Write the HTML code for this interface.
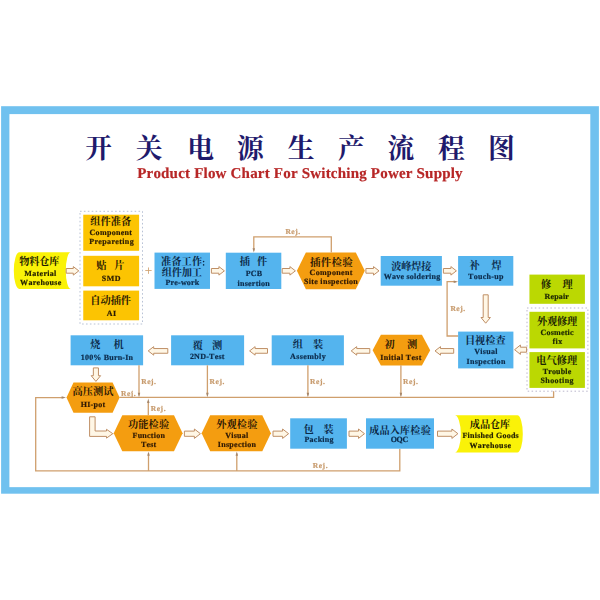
<!DOCTYPE html>
<html lang="zh"><head><meta charset="utf-8"><title>开关电源生产流程图 - Product Flow Chart For Switching Power Supply</title>
<style>
html,body{margin:0;padding:0;background:#fff}
body{width:600px;height:600px;position:relative;overflow:hidden;font-family:"Liberation Serif",serif}
svg{position:absolute;left:0;top:0}
#txt{position:absolute;left:0;top:0;width:600px;height:600px;will-change:transform}
.t{position:absolute;text-align:center;font-family:"Liberation Serif",serif;font-weight:bold;line-height:9px;white-space:nowrap;-webkit-text-stroke:0.2px currentColor;text-rendering:geometricPrecision;font-kerning:none}
.c{font-family:"Liberation Serif","Noto Serif CJK SC",serif;font-weight:bold}
</style></head><body>
<svg width="600" height="600" viewBox="0 0 600 600">
<rect x="1.10" y="106.20" width="597.80" height="387.50" fill="#70c1ef"/>
<rect x="9.40" y="114.10" width="580.90" height="373.05" fill="#fff"/>
<path d="M19.3,252.3 L70.7,252.3 A4.9,18.35 0 0 0 70.7,289 L19.3,289 A5.5,18.35 0 0 1 19.3,252.3Z" fill="#faf208"/>
<polygon points="66.20,268.50 73.30,268.50 73.30,266.60 78.80,270.85 73.30,275.10 73.30,273.20 66.20,273.20" fill="#fff7e6" stroke="#bf8f66" stroke-width="1"/>
<rect x="80" y="211.3" width="62.5" height="112.7" fill="none" stroke="#a6b3ca" stroke-width="0.8" stroke-dasharray="1.6 2.3"/>
<rect x="83.25" y="214.70" width="55.85" height="36.10" fill="#fcc402"/>
<rect x="83.25" y="255.80" width="55.85" height="30.50" fill="#fcc402"/>
<rect x="83.25" y="290.60" width="55.85" height="29.70" fill="#fcc402"/>
<rect x="154.50" y="252.60" width="55.50" height="36.30" fill="#54b4ee"/>
<polygon points="211.40,268.50 218.90,268.50 218.90,266.60 224.40,270.85 218.90,275.10 218.90,273.20 211.40,273.20" fill="#fff7e6" stroke="#bf8f66" stroke-width="1"/>
<rect x="225.80" y="252.70" width="55.50" height="36.30" fill="#54b4ee"/>
<polygon points="282.20,268.50 289.90,268.50 289.90,266.60 295.40,270.85 289.90,275.10 289.90,273.20 282.20,273.20" fill="#fff7e6" stroke="#bf8f66" stroke-width="1"/>
<polygon points="296.90,270.85 305.90,252.40 355.80,252.40 364.80,270.85 355.80,289.30 305.90,289.30" fill="#f49d10"/>
<polygon points="365.90,268.50 373.50,268.50 373.50,266.60 379.00,270.85 373.50,275.10 373.50,273.20 365.90,273.20" fill="#fff7e6" stroke="#bf8f66" stroke-width="1"/>
<rect x="380.70" y="256.00" width="61.20" height="29.70" fill="#54b4ee"/>
<polygon points="443.40,268.50 450.90,268.50 450.90,266.60 456.40,270.85 450.90,275.10 450.90,273.20 443.40,273.20" fill="#fff7e6" stroke="#bf8f66" stroke-width="1"/>
<rect x="458.10" y="256.00" width="55.20" height="29.70" fill="#54b4ee"/>
<polyline points="331.30,252.40 331.30,236.80 253.80,236.80 253.80,250.50" fill="none" stroke="#cf9f6d" stroke-width="1.3"/>
<polygon points="253.80,252.60 252.55,248.20 255.05,248.20" fill="#a5866a"/>
<polygon points="483.20,294.80 483.20,317.50 481.00,317.50 485.70,323.20 490.40,317.50 488.20,317.50 488.20,294.80" fill="#fff7e6" stroke="#bf8f66" stroke-width="1"/>
<rect x="458.10" y="331.60" width="55.30" height="36.80" fill="#54b4ee"/>
<polyline points="458.10,336.00 447.10,336.00 447.10,281.70 456.00,281.70" fill="none" stroke="#cf9f6d" stroke-width="1.3"/>
<polygon points="458.10,281.70 453.70,280.45 453.70,282.95" fill="#a5866a"/>
<rect x="529.45" y="274.60" width="55.45" height="29.20" fill="#bbd802"/>
<rect x="527.0" y="308" width="60.9" height="83.2" fill="none" stroke="#a9a4c0" stroke-width="0.8" stroke-dasharray="1.5 2.4"/>
<rect x="529.45" y="311.80" width="55.45" height="36.60" fill="#bbd802"/>
<rect x="529.45" y="352.10" width="55.45" height="35.80" fill="#bbd802"/>
<polygon points="526.60,347.20 520.40,347.20 520.40,345.00 514.60,349.70 520.40,354.40 520.40,352.20 526.60,352.20" fill="#fff7e6" stroke="#bf8f66" stroke-width="1"/>
<polyline points="553.60,391.20 553.60,397.40 119.60,397.40" fill="none" stroke="#cf9f6d" stroke-width="1.3"/>
<rect x="70.60" y="335.30" width="72.50" height="30.00" fill="#54b4ee"/>
<polygon points="167.80,348.55 153.70,348.55 153.70,346.65 148.20,350.90 153.70,355.15 153.70,353.25 167.80,353.25" fill="#fff7e6" stroke="#bf8f66" stroke-width="1"/>
<rect x="171.10" y="335.30" width="73.00" height="30.00" fill="#54b4ee"/>
<polygon points="267.50,348.55 255.10,348.55 255.10,346.65 249.60,350.90 255.10,355.15 255.10,353.25 267.50,353.25" fill="#fff7e6" stroke="#bf8f66" stroke-width="1"/>
<rect x="271.70" y="335.30" width="72.20" height="30.00" fill="#54b4ee"/>
<polygon points="369.80,348.55 356.70,348.55 356.70,346.65 351.20,350.90 356.70,355.15 356.70,353.25 369.80,353.25" fill="#fff7e6" stroke="#bf8f66" stroke-width="1"/>
<polygon points="372.60,350.15 380.90,334.70 421.90,334.70 430.20,350.15 421.90,365.60 380.90,365.60" fill="#f49d10"/>
<polygon points="453.70,348.55 440.50,348.55 440.50,346.65 435.00,350.90 440.50,355.15 440.50,353.25 453.70,353.25" fill="#fff7e6" stroke="#bf8f66" stroke-width="1"/>
<polyline points="139.00,365.30 139.00,395.50" fill="none" stroke="#cf9f6d" stroke-width="1.3"/>
<polygon points="139.00,397.20 137.75,392.80 140.25,392.80" fill="#a5866a"/>
<polyline points="207.40,365.30 207.40,395.50" fill="none" stroke="#cf9f6d" stroke-width="1.3"/>
<polygon points="207.40,397.20 206.15,392.80 208.65,392.80" fill="#a5866a"/>
<polyline points="307.90,365.30 307.90,395.50" fill="none" stroke="#cf9f6d" stroke-width="1.3"/>
<polygon points="307.90,397.20 306.65,392.80 309.15,392.80" fill="#a5866a"/>
<polyline points="400.90,365.30 400.90,395.50" fill="none" stroke="#cf9f6d" stroke-width="1.3"/>
<polygon points="400.90,397.20 399.65,392.80 402.15,392.80" fill="#a5866a"/>
<polygon points="93.35,367.90 93.35,375.70 91.20,375.70 95.90,381.40 100.60,375.70 98.45,375.70 98.45,367.90" fill="#fff7e6" stroke="#bf8f66" stroke-width="1"/>
<polygon points="66.50,397.60 73.50,382.50 112.60,382.50 119.60,397.60 112.60,412.70 73.50,412.70" fill="#f49d10"/>
<polyline points="63.50,397.60 35.70,397.60 35.70,470.90 399.80,470.90 399.80,448.70" fill="none" stroke="#cf9f6d" stroke-width="1.3"/>
<polygon points="66.00,397.60 61.60,396.35 61.60,398.85" fill="#a5866a"/>
<polyline points="148.50,470.90 148.50,453.50" fill="none" stroke="#cf9f6d" stroke-width="1.3"/>
<polygon points="148.50,451.40 147.25,455.80 149.75,455.80" fill="#a5866a"/>
<polyline points="236.80,470.90 236.80,453.50" fill="none" stroke="#cf9f6d" stroke-width="1.3"/>
<polygon points="236.80,451.40 235.55,455.80 238.05,455.80" fill="#a5866a"/>
<polygon points="89.60,416.80 95.10,416.80 95.10,431.00 106.50,431.00 106.50,429.30 112.80,433.70 106.50,438.10 106.50,436.40 89.60,436.40" fill="#fff7e6" stroke="#bf8f66" stroke-width="1"/>
<polygon points="113.70,433.30 122.30,415.30 174.00,415.30 182.60,433.30 174.00,451.30 122.30,451.30" fill="#f49d10"/>
<polyline points="148.30,415.30 148.30,401.00" fill="none" stroke="#cf9f6d" stroke-width="1.3"/>
<polygon points="148.30,398.60 147.05,403.00 149.55,403.00" fill="#a5866a"/>
<polygon points="184.40,431.10 194.40,431.10 194.40,429.00 200.40,433.70 194.40,438.40 194.40,436.30 184.40,436.30" fill="#fff7e6" stroke="#bf8f66" stroke-width="1"/>
<polygon points="201.60,433.30 210.20,415.30 262.30,415.30 270.90,433.30 262.30,451.30 210.20,451.30" fill="#f49d10"/>
<polygon points="273.00,431.10 282.60,431.10 282.60,429.00 288.60,433.70 282.60,438.40 282.60,436.30 273.00,436.30" fill="#fff7e6" stroke="#bf8f66" stroke-width="1"/>
<rect x="290.20" y="418.30" width="56.70" height="30.40" fill="#54b4ee"/>
<polygon points="349.00,431.10 358.50,431.10 358.50,429.00 364.50,433.70 358.50,438.40 358.50,436.30 349.00,436.30" fill="#fff7e6" stroke="#bf8f66" stroke-width="1"/>
<rect x="366.00" y="418.30" width="68.00" height="30.40" fill="#54b4ee"/>
<polygon points="437.50,431.10 451.90,431.10 451.90,429.00 457.90,433.70 451.90,438.40 451.90,436.30 437.50,436.30" fill="#fff7e6" stroke="#bf8f66" stroke-width="1"/>
<path d="M454.7,415.2 L517.3,415.2 A5.5,18.7 0 0 1 517.3,452.6 L454.7,452.6 A6.1,18.7 0 0 0 454.7,415.2Z" fill="#faf208"/>
<text class="c" x="85.30 135.70 187.30 236.90 287.80 338.10 387.60 437.90 488.10" y="157.58" font-size="26.8" fill="#1f1a6c">开关电源生产流程图</text>
<text class="c" x="19.26 29.25 39.25 49.24" y="265.18" font-size="10.2" fill="#1f1c03">物料仓库</text>
<text class="c" x="90.24 100.48 110.72 120.96" y="224.73" font-size="10.2" fill="#2a1a04">组件准备</text>
<text class="c" x="96.30 114.15" y="269.28" font-size="10.2" fill="#2a1a04">贴片</text>
<text class="c" x="90.24 100.45 110.65 120.86" y="304.28" font-size="10.2" fill="#2a1a04">自动插件</text>
<text class="c" x="161.00 171.30 181.60 191.90" y="264.98" font-size="10.2" fill="#0b2a4a">准备工作</text>
<circle cx="203.6" cy="261.6" r="0.8" fill="#0b2a4a"/><circle cx="203.6" cy="264.9" r="0.8" fill="#0b2a4a"/>
<text class="c" x="161.68 171.68 181.67 191.67" y="276.38" font-size="10.2" fill="#0b2a4a">组件加工</text>
<text class="c" x="239.70 257.10" y="265.28" font-size="10.2" fill="#0b2a4a">插件</text>
<text class="c" x="310.03 320.78 331.52 342.27" y="265.69" font-size="10.5" fill="#2e1804">插件检验</text>
<text class="c" x="391.18 401.18 411.17 421.17" y="269.63" font-size="10.2" fill="#0b2a4a">波峰焊接</text>
<text class="c" x="469.50 491.50" y="269.28" font-size="10.2" fill="#0b2a4a">补焊</text>
<text class="c" x="464.94 475.11 485.29 495.46" y="343.88" font-size="10.2" fill="#0b2a4a">目视检查</text>
<text class="c" x="540.90 562.40" y="287.78" font-size="10.2" fill="#1b2504">修理</text>
<text class="c" x="536.94 546.98 557.02 567.06" y="325.08" font-size="10.2" fill="#1b2504">外观修理</text>
<text class="c" x="536.24 546.48 556.72 566.96" y="364.28" font-size="10.2" fill="#1b2504">电气修理</text>
<text class="c" x="90.15 113.40" y="348.28" font-size="10.2" fill="#0b2a4a">烧机</text>
<text class="c" x="192.65 212.00" y="348.68" font-size="10.2" fill="#0b2a4a">覆测</text>
<text class="c" x="292.65 312.90" y="348.38" font-size="10.2" fill="#0b2a4a">组装</text>
<text class="c" x="384.60 406.90" y="348.38" font-size="10.2" fill="#2e1804">初测</text>
<text class="c" x="72.44 82.71 92.99 103.26" y="395.28" font-size="10.2" fill="#2e1804">高压测试</text>
<text class="c" x="127.89 138.23 148.57 158.91" y="428.13" font-size="10.2" fill="#2e1804">功能检验</text>
<text class="c" x="216.14 226.48 236.82 247.16" y="427.68" font-size="10.2" fill="#2e1804">外观检验</text>
<text class="c" x="303.40 323.55" y="432.98" font-size="10.2" fill="#0b2a4a">包装</text>
<text class="c" x="369.25 379.53 389.81 400.09 410.37 420.65" y="433.84" font-size="10.1" fill="#0b2a4a">成品入库检验</text>
<text class="c" x="469.84 479.88 489.92 499.96" y="428.13" font-size="10.2" fill="#1f1c03">成品仓库</text>
</svg>
<div id="txt">
<div class="t" style="left:100px;top:166px;width:400px;font-size:15px;line-height:16px;letter-spacing:0.2px;color:#b72626">Product Flow Chart For Switching Power Supply</div>
<div class="t" style="left:-19.49px;top:269px;width:120px;font-size:8px;letter-spacing:0.32px;color:#1f1c03">Material</div>
<div class="t" style="left:-19.19px;top:278px;width:120px;font-size:8px;letter-spacing:0.31px;color:#1f1c03">Warehouse</div>
<div class="t" style="left:50.95px;top:228px;width:120px;font-size:8px;letter-spacing:0.31px;color:#2a1a04">Component</div>
<div class="t" style="left:51.58px;top:237px;width:120px;font-size:8px;letter-spacing:0.36px;color:#2a1a04">Prepareting</div>
<div class="t" style="left:51.40px;top:274px;width:120px;font-size:8px;letter-spacing:0.50px;color:#2a1a04">SMD</div>
<div class="t" style="left:51.69px;top:309px;width:120px;font-size:8px;letter-spacing:0.49px;color:#2a1a04">AI</div>
<div class="t" style="left:138.5px;top:264px;width:20px;font-size:13px;line-height:14px;font-weight:normal;color:#cf9f6d">+</div>
<div class="t" style="left:122.47px;top:278px;width:120px;font-size:8px;letter-spacing:0.19px;color:#0b2a4a">Pre-work</div>
<div class="t" style="left:193.95px;top:269px;width:120px;font-size:8px;letter-spacing:0.19px;color:#0b2a4a">PCB</div>
<div class="t" style="left:193.78px;top:279px;width:120px;font-size:8px;letter-spacing:0.27px;color:#0b2a4a">insertion</div>
<div class="t" style="left:271.18px;top:268px;width:120px;font-size:8px;letter-spacing:0.36px;color:#2e1804">Component</div>
<div class="t" style="left:271.00px;top:277px;width:120px;font-size:8px;letter-spacing:0.30px;color:#2e1804">Site inspection</div>
<div class="t" style="left:352.03px;top:272px;width:120px;font-size:8px;letter-spacing:0.26px;color:#0b2a4a">Wave soldering</div>
<div class="t" style="left:425.95px;top:272px;width:120px;font-size:8px;letter-spacing:0.30px;color:#0b2a4a">Touch-up</div>
<div class="t" style="left:233.02px;top:227px;width:120px;font-size:7.5px;letter-spacing:0.54px;color:#c79a6c">Rej.</div>
<div class="t" style="left:426.01px;top:347px;width:120px;font-size:8px;letter-spacing:0.32px;color:#0b2a4a">Visual</div>
<div class="t" style="left:426.08px;top:357px;width:120px;font-size:8px;letter-spacing:0.37px;color:#0b2a4a">Inspection</div>
<div class="t" style="left:398.02px;top:304px;width:120px;font-size:7.5px;letter-spacing:0.54px;color:#c79a6c">Rej.</div>
<div class="t" style="left:496.79px;top:292px;width:120px;font-size:8px;letter-spacing:0.19px;color:#1b2504">Repair</div>
<div class="t" style="left:497.11px;top:328px;width:120px;font-size:8px;letter-spacing:0.22px;color:#1b2504">Cosmetic</div>
<div class="t" style="left:497.57px;top:337px;width:120px;font-size:8px;letter-spacing:0.45px;color:#1b2504">fix</div>
<div class="t" style="left:497.08px;top:367px;width:120px;font-size:8px;letter-spacing:0.15px;color:#1b2504">Trouble</div>
<div class="t" style="left:497.20px;top:376px;width:120px;font-size:8px;letter-spacing:0.41px;color:#1b2504">Shooting</div>
<div class="t" style="left:46.98px;top:353px;width:120px;font-size:8px;letter-spacing:0.20px;color:#0b2a4a">100% Burn-In</div>
<div class="t" style="left:147.29px;top:352px;width:120px;font-size:8px;letter-spacing:0.24px;color:#0b2a4a">2ND-Test</div>
<div class="t" style="left:248.08px;top:352px;width:120px;font-size:8px;letter-spacing:0.41px;color:#0b2a4a">Assembly</div>
<div class="t" style="left:341.01px;top:353px;width:120px;font-size:8px;letter-spacing:0.33px;color:#2e1804">Initial Test</div>
<div class="t" style="left:88.82px;top:377px;width:120px;font-size:7.5px;letter-spacing:0.54px;color:#c79a6c">Rej.</div>
<div class="t" style="left:157.22px;top:377px;width:120px;font-size:7.5px;letter-spacing:0.54px;color:#c79a6c">Rej.</div>
<div class="t" style="left:257.72px;top:377px;width:120px;font-size:7.5px;letter-spacing:0.54px;color:#c79a6c">Rej.</div>
<div class="t" style="left:350.72px;top:377px;width:120px;font-size:7.5px;letter-spacing:0.54px;color:#c79a6c">Rej.</div>
<div class="t" style="left:33.08px;top:400px;width:120px;font-size:8px;letter-spacing:0.25px;color:#2e1804">HI-pot</div>
<div class="t" style="left:68.62px;top:389px;width:120px;font-size:7.5px;letter-spacing:0.54px;color:#c79a6c">Rej.</div>
<div class="t" style="left:260.42px;top:461px;width:120px;font-size:7.5px;letter-spacing:0.54px;color:#c79a6c">Rej.</div>
<div class="t" style="left:88.85px;top:431px;width:120px;font-size:8px;letter-spacing:0.25px;color:#2e1804">Function</div>
<div class="t" style="left:88.74px;top:440px;width:120px;font-size:8px;letter-spacing:0.17px;color:#2e1804">Test</div>
<div class="t" style="left:98.42px;top:404px;width:120px;font-size:7.5px;letter-spacing:0.54px;color:#c79a6c">Rej.</div>
<div class="t" style="left:176.87px;top:431px;width:120px;font-size:8px;letter-spacing:0.24px;color:#2e1804">Visual</div>
<div class="t" style="left:177.05px;top:440px;width:120px;font-size:8px;letter-spacing:0.30px;color:#2e1804">Inspection</div>
<div class="t" style="left:259.13px;top:435px;width:120px;font-size:8px;letter-spacing:0.25px;color:#0b2a4a">Packing</div>
<div class="t" style="left:339.30px;top:435px;width:120px;font-size:8px;letter-spacing:-0.30px;color:#0b2a4a">OQC</div>
<div class="t" style="left:430.72px;top:431px;width:120px;font-size:8px;letter-spacing:0.24px;color:#1f1c03">Finished Goods</div>
<div class="t" style="left:430.40px;top:441px;width:120px;font-size:8px;letter-spacing:0.35px;color:#1f1c03">Warehouse</div>
</div>
</body></html>
